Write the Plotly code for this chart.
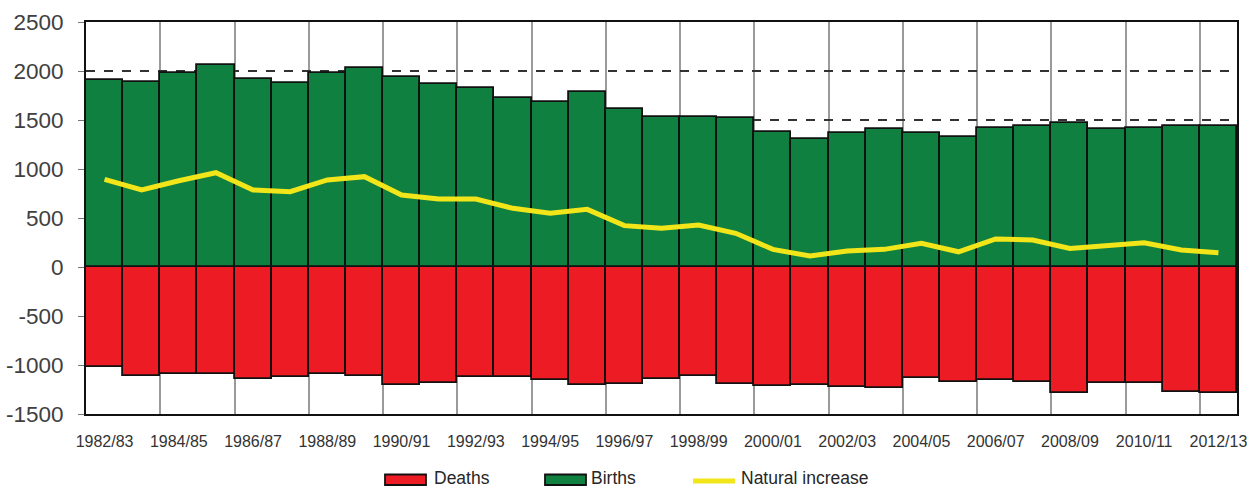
import plotly.graph_objects as go

years = ["1982/83","1983/84","1984/85","1985/86","1986/87","1987/88","1988/89","1989/90",
         "1990/91","1991/92","1992/93","1993/94","1994/95","1995/96","1996/97","1997/98",
         "1998/99","1999/00","2000/01","2001/02","2002/03","2003/04","2004/05","2005/06",
         "2006/07","2007/08","2008/09","2009/10","2010/11","2011/12","2012/13"]

births = [1908, 1891, 1976, 2061, 1918, 1874, 1983, 2027, 1935, 1864, 1823, 1728, 1687, 1789,
          1612, 1527, 1534, 1524, 1374, 1303, 1371, 1405, 1364, 1330, 1422, 1442, 1466, 1405,
          1422, 1439, 1439]

deaths = [-1017, -1112, -1095, -1095, -1143, -1119, -1092, -1116, -1204, -1180, -1119, -1119,
          -1153, -1204, -1197, -1143, -1112, -1194, -1211, -1204, -1221, -1231, -1136, -1177,
          -1153, -1177, -1282, -1187, -1187, -1272, -1289]

natural_increase = [895, 786, 880, 962, 786, 768, 888, 922, 735, 694, 694, 599, 548, 588, 422,
                    395, 429, 344, 180, 112, 163, 180, 242, 155, 286, 276, 190, 224, 248, 173, 146]

y_ticks = [-1500, -1000, -500, 0, 500, 1000, 1500, 2000, 2500]
y_tick_text = ["-1500", "-1000", "-500", "0", "500", "1000", "1500", "2000", "2500"]

RED = "#ED1C24"
GREEN = "#108040"
YELLOW = "#F2E61A"
FONT = "Liberation Sans, Arial, sans-serif"

fig = go.Figure()
fig.add_trace(go.Bar(x=years, y=deaths, name="Deaths", marker=dict(color=RED, line=dict(color="#111111", width=1.8)), showlegend=False))
fig.add_trace(go.Bar(x=years, y=births, name="Births", marker=dict(color=GREEN, line=dict(color="#111111", width=1.8)), showlegend=False))
fig.add_trace(go.Scatter(x=years, y=natural_increase, name="Natural increase", mode="lines",
                         line=dict(color=YELLOW, width=5), showlegend=False))

W, H = 1247, 489
ml, mt = 86, 22
pw, ph = 1151, 392
mr = W - ml - pw
mb = H - mt - ph

def px2paper(x, y):
    return (x - ml) / pw, (mt + ph - y) / ph

shapes = []
annotations = []
legend_items = [
    ("Deaths", "rect", RED, 385, 426, 432),
    ("Births", "rect", GREEN, 545, 586, 589),
    ("Natural increase", "line", YELLOW, 693, 735, 739),
]
sym_y = 480
txt_y = 478.5
for name, kind, color, x0, x1, tx in legend_items:
    a0, b0 = px2paper(x0, sym_y - 5.5)
    a1, b1 = px2paper(x1, sym_y + 5)
    if kind == "rect":
        shapes.append(dict(type="rect", xref="paper", yref="paper", x0=a0, x1=a1, y0=b1, y1=b0,
                           fillcolor=color, line=dict(color="#111111", width=1.8)))
    else:
        ya = px2paper(0, sym_y + 1)[1]
        shapes.append(dict(type="line", xref="paper", yref="paper", x0=a0, x1=a1, y0=ya, y1=ya,
                           line=dict(color=color, width=5)))
    ax, ay = px2paper(tx, txt_y)
    annotations.append(dict(text=name, xref="paper", yref="paper", x=ax, y=ay, xanchor="left",
                            yanchor="middle", showarrow=False,
                            font=dict(family=FONT, size=17.5, color="#262626")))

fig.update_layout(
    width=W, height=H,
    margin=dict(l=ml, r=mr, t=mt, b=mb, autoexpand=False),
    barmode="relative", bargap=0,
    plot_bgcolor="white", paper_bgcolor="white",
    font=dict(family=FONT, color="#404040"),
    shapes=shapes, annotations=annotations,
    xaxis=dict(type="category", tickson="boundaries", dtick=2, showgrid=True, automargin=False,
               gridcolor="#9a9a9a", gridwidth=1.5, ticks="", showline=True, mirror=True,
               linecolor="#111111", linewidth=2, tickangle=0,
               tickfont=dict(size=16, color="#333333"), ticklabelstandoff=12),
    yaxis=dict(range=[-1500, 2500], tickvals=y_ticks, ticktext=y_tick_text, showgrid=True,
               automargin=False, gridcolor="#333333",
               griddash="dash", gridwidth=1.5, zeroline=False, ticks="outside", ticklen=6,
               tickcolor="#777777", showline=True, mirror=True, linecolor="#111111", linewidth=2,
               tickfont=dict(size=22.5, color="#404040"), ticklabelstandoff=10),
)

fig.write_html("out.html", config={"displayModeBar": False},
               post_script="document.body.style.margin='0';document.body.style.overflow='hidden';")
